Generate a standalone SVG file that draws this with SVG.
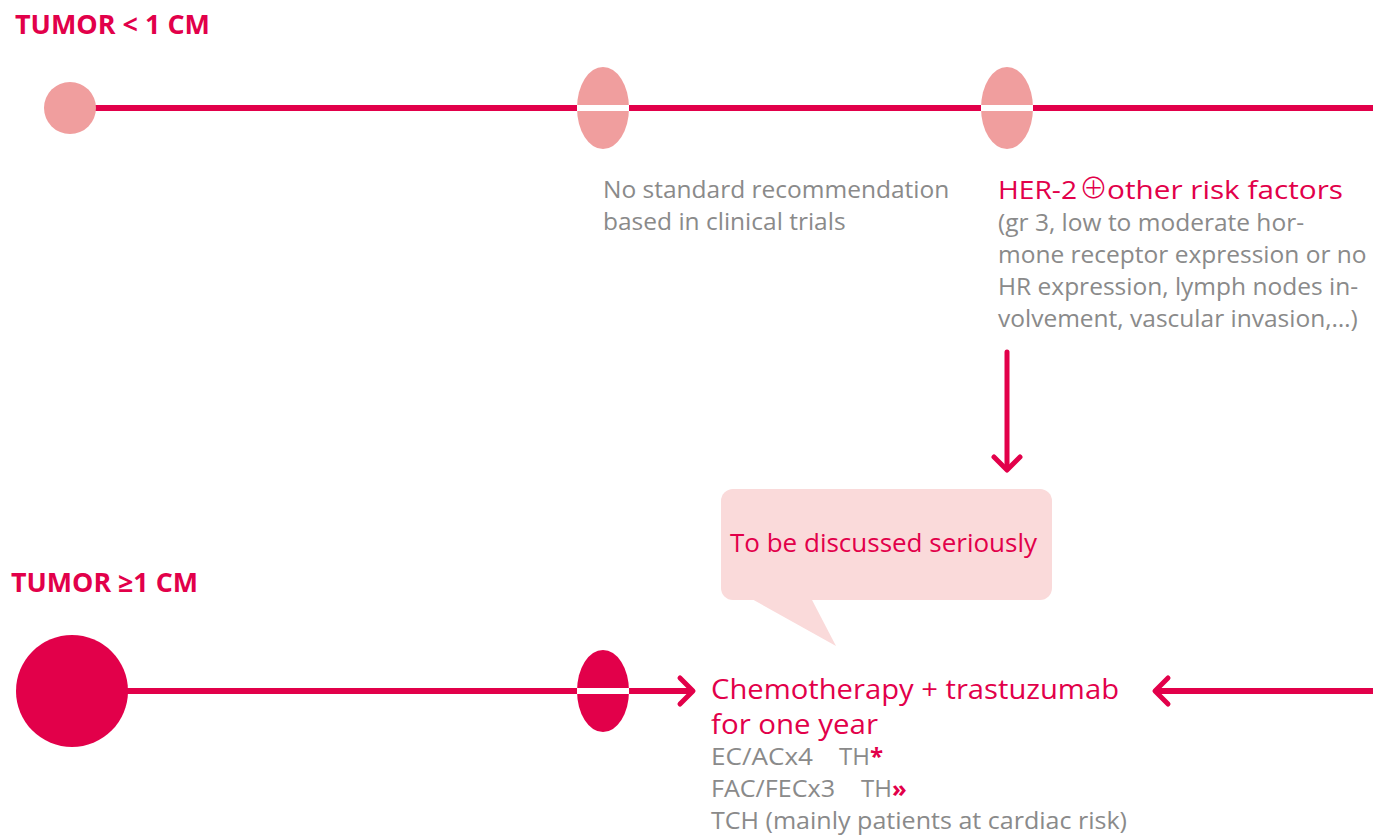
<svg xmlns="http://www.w3.org/2000/svg" width="1373" height="835" viewBox="0 0 1373 835">
  <style>
    .head { font-family: "Open Sans", "Liberation Sans", sans-serif; font-weight: bold; fill: #E2004A; font-size: 26px; }
    .red { font-family: "Open Sans", "Liberation Sans", sans-serif; fill: #E2004A; font-size: 26px; }
    .big { font-size: 27px; }
    .grey { font-family: "Open Sans", "Liberation Sans", sans-serif; fill: #8A8A8A; font-size: 24.5px; }
    .narrow { font-size: 24px; }
    .mark { fill: #E2004A; font-weight: bold; }
    .line { stroke: #E2004A; stroke-width: 6; fill: none; }
    .arrow { stroke: #E2004A; stroke-width: 5; fill: none; stroke-linecap: round; stroke-linejoin: round; }
    .pale { fill: #F09E9E; }
    .deep { fill: #E2004A; }
    .gap { stroke: #FFFFFF; stroke-width: 6; }
  </style>

  <rect width="1373" height="835" fill="#FFFFFF"/>

  <!-- connectors -->
  <g id="connectors">
    <line class="line" x1="90" y1="108" x2="1373" y2="108"/>
    <line class="line" x1="120" y1="691" x2="690" y2="691"/>
    <polyline class="arrow" points="680,678 693,691 680,704"/>
    <line class="line" x1="1158" y1="691" x2="1373" y2="691"/>
    <polyline class="arrow" points="1168,678 1155,691 1168,704"/>
    <line class="arrow" x1="1007" y1="352" x2="1007" y2="468"/>
    <polyline class="arrow" points="994,457 1007,470 1020,457"/>
  </g>

  <!-- small tumour timeline -->
  <g id="label-small">
    <text class="head" x="15" y="34" textLength="195" lengthAdjust="spacingAndGlyphs">TUMOR &lt; 1 CM</text>
  </g>
  <g id="start-small">
    <circle class="pale" cx="70" cy="108" r="26"/>
  </g>
  <g id="step-no-standard">
    <ellipse class="pale" cx="603" cy="108" rx="26" ry="41"/>
    <line class="gap" x1="577" y1="108" x2="629" y2="108"/>
    <text class="grey" x="603" y="198">No standard recommendation</text>
    <text class="grey" x="603" y="230">based in clinical trials</text>
  </g>
  <g id="step-her2">
    <ellipse class="pale" cx="1007" cy="108" rx="26" ry="41"/>
    <line class="gap" x1="981" y1="108" x2="1033" y2="108"/>
    <text class="red" y="199" font-size="26"><tspan x="998" textLength="79" lengthAdjust="spacingAndGlyphs">HER-2</tspan><tspan x="1079" font-size="29" font-family="Noto Sans CJK SC, DejaVu Sans, sans-serif" font-weight="300">⊕</tspan><tspan x="1107" textLength="236" lengthAdjust="spacingAndGlyphs">other risk factors</tspan></text>
    <text class="grey" x="998" y="231">(gr 3, low to moderate hor-</text>
    <text class="grey" x="998" y="263">mone receptor expression or no</text>
    <text class="grey" x="998" y="295">HR expression, lymph nodes in-</text>
    <text class="grey" x="998" y="327">volvement, vascular invasion,…)</text>
  </g>

  <!-- callout -->
  <g id="callout">
    <rect x="721" y="489" width="331" height="111" rx="12" fill="#FADADA"/>
    <polygon points="750,598 836,646 811,598" fill="#FADADA"/>
    <text class="red" x="730" y="552">To be discussed seriously</text>
  </g>

  <!-- large tumour timeline -->
  <g id="label-large">
    <text class="head" x="11" y="592" textLength="187" lengthAdjust="spacingAndGlyphs">TUMOR ≥1 CM</text>
  </g>
  <g id="start-large">
    <circle class="deep" cx="72" cy="691" r="56"/>
  </g>
  <g id="step-large">
    <ellipse class="deep" cx="603" cy="691" rx="26" ry="41"/>
    <line class="gap" x1="577" y1="691" x2="629" y2="691"/>
  </g>
  <g id="treatment">
    <text class="red big" x="711" y="699" textLength="408" lengthAdjust="spacingAndGlyphs">Chemotherapy + trastuzumab</text>
    <text class="red big" x="711" y="734" textLength="167" lengthAdjust="spacingAndGlyphs">for one year</text>
    <text class="grey narrow" y="765"><tspan x="711" textLength="102" lengthAdjust="spacingAndGlyphs">EC/ACx4</tspan><tspan x="839">TH</tspan><tspan class="mark">*</tspan></text>
    <text class="grey narrow" y="797"><tspan x="711" textLength="124" lengthAdjust="spacingAndGlyphs">FAC/FECx3</tspan><tspan x="861">TH</tspan><tspan class="mark">»</tspan></text>
    <text class="grey narrow" x="711" y="829" textLength="416" lengthAdjust="spacingAndGlyphs">TCH (mainly patients at cardiac risk)</text>
  </g>
</svg>
